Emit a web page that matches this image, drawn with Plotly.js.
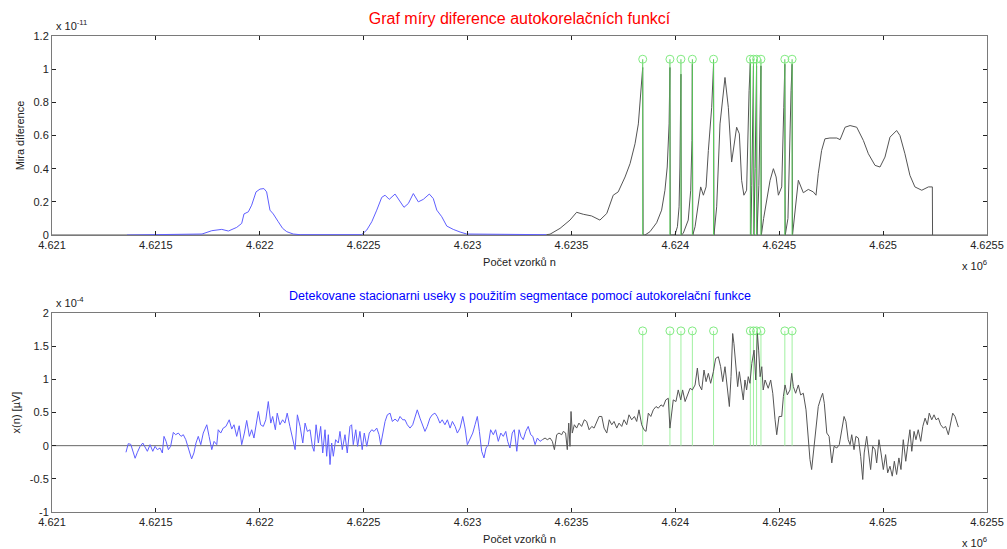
<!DOCTYPE html>
<html><head><meta charset="utf-8">
<script src="https://cdn.plot.ly/plotly-3.0.1.min.js"></script>
<style>html,body{margin:0;padding:0;background:#fff}#chart{width:1007px;height:549px}</style>
</head><body><div id="chart"></div>
<script>
const xTickVals = [4621000,4621500,4622000,4622500,4623000,4623500,4624000,4624500,4625000,4625500];
const xTickText = ['4.621','4.6215','4.622','4.6225','4.623','4.6235','4.624','4.6245','4.625','4.6255'];
const topTickVals = [0,0.2,0.4,0.6,0.8,1,1.2];
const topTickText = ['0','0.2','0.4','0.6','0.8','1','1.2'];
const botTickVals = [-1,-0.5,0,0.5,1,1.5,2];
const botTickText = ['-1','-0.5','0','0.5','1','1.5','2'];

// top panel: difference measure (units of 1e-11)
const topBlueN = [4621361,4621722,4621769,4621817,4621849,4621889,4621913,4621924,4621945,4621961,
  4621982,4622001,4622020,4622033,4622049,4622065,4622089,4622110,4622130,4622161,
  4622194,4622490,4622515,4622539,4622563,4622587,4622603,4622623,4622651,4622672,
  4622694,4622715,4622739,4622763,4622787,4622816,4622835,4622852,4622876,4622900,
  4622931,4622964,4622996,4623380];
const topBlueV = [0,0.006,0.026,0.034,0.024,0.046,0.07,0.127,0.14,0.18,
  0.26,0.277,0.28,0.26,0.15,0.127,0.08,0.04,0.02,0.006,
  0.002,0.002,0.03,0.08,0.15,0.227,0.24,0.215,0.247,0.21,
  0.167,0.19,0.25,0.2,0.215,0.247,0.22,0.15,0.11,0.054,
  0.034,0.018,0.006,0.002];

const topBlackN = [4623380,4623397,4623445,4623493,4623525,4623557,4623597,4623637,4623670,4623701,
  4623725,4623758,4623782,4623806,4623822,4623833,4623843,4623845,4623854,4623878,
  4623910,4623934,4623950,4623961,4623970,4623974,4623976,4623998,4624010,4624018,
  4624022,4624027,4624029,4624038,4624062,4624074,4624080,4624082,4624084,4624095,
  4624111,4624122,4624135,4624148,4624159,4624175,4624184,4624186,4624199,4624215,
  4624239,4624255,4624271,4624295,4624308,4624319,4624330,4624343,4624355,4624361,
  4624363,4624368,4624376,4624378,4624384,4624391,4624393,4624402,4624412,4624414,
  4624425,4624440,4624456,4624472,4624485,4624496,4624512,4624522,4624527,4624529,
  4624542,4624557,4624562,4624564,4624576,4624592,4624616,4624640,4624664,4624677,
  4624688,4624704,4624720,4624744,4624777,4624793,4624817,4624841,4624873,4624889,
  4624905,4624929,4624961,4624985,4625009,4625033,4625065,4625081,4625105,4625129,
  4625153,4625186,4625218,4625237,4625238];
const topBlackV = [0.002,0.005,0.04,0.09,0.137,0.125,0.115,0.09,0.13,0.24,
  0.26,0.35,0.43,0.55,0.67,0.83,1.01,0,0,0.02,
  0.074,0.15,0.27,0.41,0.67,1.01,0,0,0.05,0.17,
  0.41,0.97,0,0.01,0.09,0.27,0.57,1.03,0,0.05,
  0.21,0.29,0.24,0.29,0.51,0.77,1.03,0,0.17,0.67,
  0.95,0.77,0.44,0.65,0.61,0.33,0.24,0.27,0.87,1.04,
  0,0.3,1.02,0,0.4,1.02,0,0.3,1.02,0,
  0.1,0.21,0.33,0.4,0.35,0.24,0.29,0.77,1.03,0,
  0.1,0.87,1.03,0,0.15,0.33,0.255,0.275,0.26,0.24,
  0.37,0.51,0.58,0.585,0.585,0.575,0.65,0.66,0.65,0.61,
  0.57,0.49,0.42,0.41,0.47,0.59,0.63,0.6,0.49,0.36,
  0.29,0.27,0.29,0.29,0];

// detected segment boundaries
const stemN = [4623843,4623974,4624027,4624082,4624184,4624361,4624376,4624391,4624412,4624527,4624562];
const topStemV = [1.06,1.06,1.06,1.06,1.06,1.06,1.06,1.06,1.06,1.06,1.06];
const botStemV = [1.73,1.73,1.73,1.73,1.73,1.73,1.73,1.73,1.73,1.73,1.73];

// bottom panel: signal x(n) (units of 1e-4)
const sigBlueN = [4621356,4621367,4621379,4621388,4621400,4621411,4621424,4621437,4621448,4621459,
  4621472,4621485,4621496,4621507,4621520,4621531,4621539,4621549,4621560,4621571,
  4621584,4621595,4621608,4621621,4621632,4621644,4621656,4621672,4621683,4621693,
  4621704,4621716,4621728,4621745,4621756,4621769,4621780,4621793,4621800,4621812,
  4621824,4621837,4621853,4621865,4621876,4621889,4621901,4621913,4621926,4621937,
  4621950,4621961,4621972,4621982,4621993,4622004,4622017,4622029,4622041,4622053,
  4622062,4622075,4622084,4622097,4622110,4622121,4622132,4622145,4622158,4622170,
  4622181,4622194,4622207,4622218,4622229,4622242,4622253,4622261,4622271,4622282,
  4622293,4622303,4622314,4622322,4622330,4622338,4622346,4622354,4622365,4622378,
  4622386,4622397,4622410,4622421,4622434,4622442,4622450,4622462,4622471,4622482,
  4622493,4622503,4622515,4622527,4622539,4622550,4622563,4622574,4622582,4622592,
  4622603,4622614,4622627,4622638,4622651,4622664,4622675,4622688,4622699,4622710,
  4622723,4622736,4622747,4622758,4622771,4622784,4622795,4622806,4622819,4622830,
  4622843,4622854,4622867,4622878,4622891,4622903,4622916,4622927,4622940,4622951,
  4622964,4622977,4622988,4622999,4623012,4623025,4623036,4623047,4623057,4623068,
  4623079,4623089,4623100,4623111,4623124,4623135,4623148,4623160,4623172,4623184,
  4623193,4623204,4623215,4623225,4623237,4623248,4623257,4623268,4623280,4623292,
  4623304,4623314,4623325,4623336,4623349,4623360];
const sigBlueV = [-0.1,0.03,0.02,-0.06,-0.19,-0.1,-0.01,0.04,-0.035,-0.085,
  0.015,-0.085,-0.01,-0.06,-0.035,-0.11,0.14,0.065,-0.06,-0.01,
  0.2,0.165,0.19,0.14,0.165,0.09,-0.035,-0.2,-0.11,0.04,
  0.14,0.015,0.19,0.315,0.14,-0.06,0.065,0.015,0.24,0.19,
  0.265,0.29,0.39,0.25,0.315,0.14,0.3,0.015,0.19,0.38,
  0.14,0.24,0.115,0.29,0.515,0.315,0.29,0.39,0.665,0.34,
  0.44,0.24,0.49,0.315,0.39,0.34,0.49,0.29,0.115,-0.06,
  0.465,0.29,0.04,0.34,0.215,0.24,-0.01,-0.085,0.315,0.04,
  0.29,-0.11,0.24,-0.16,0.165,-0.285,0.04,-0.16,0.09,0.04,
  0.215,-0.06,0.165,-0.11,0.29,0.315,0.015,0.24,-0.01,0.215,
  -0.06,0.19,-0.01,0.19,0.24,0.215,0.265,0.165,0.015,0.215,
  0.365,0.465,0.49,0.365,0.4,0.365,0.44,0.39,0.39,0.315,
  0.265,0.315,0.44,0.54,0.415,0.315,0.215,0.29,0.415,0.465,
  0.49,0.44,0.34,0.39,0.315,0.39,0.265,0.365,0.29,0.19,
  0.265,0.44,0.265,0.015,0.115,0.19,0.315,0.44,0.215,-0.085,
  -0.185,-0.035,0.015,0.24,0.165,0.24,0.065,0.19,0.14,0.215,
  0.065,-0.035,0.19,0.24,-0.085,0.24,0.14,0.09,0.215,0.29,
  0.165,0.14,0.015,0.115,0.065,0.09];

const sigBlackN = [4623360,4623373,4623384,4623397,4623408,4623418,4623429,4623440,4623453,4623461,
  4623472,4623480,4623487,4623493,4623498,4623504,4623514,4623525,4623536,4623549,
  4623562,4623573,4623585,4623598,4623609,4623622,4623633,4623646,4623657,4623670,
  4623682,4623694,4623705,4623718,4623729,4623742,4623753,4623766,4623777,4623790,
  4623803,4623814,4623825,4623838,4623849,4623859,4623870,4623882,4623894,4623907,
  4623918,4623931,4623942,4623954,4623966,4623974,4623983,4623990,4624003,4624014,
  4624026,4624035,4624047,4624058,4624071,4624082,4624095,4624106,4624115,4624127,
  4624138,4624148,4624159,4624170,4624183,4624194,4624207,4624218,4624228,4624239,
  4624250,4624260,4624268,4624276,4624282,4624292,4624300,4624308,4624319,4624327,
  4624335,4624343,4624351,4624359,4624368,4624379,4624387,4624395,4624401,4624408,
  4624416,4624423,4624432,4624447,4624459,4624469,4624480,4624488,4624499,4624512,
  4624520,4624528,4624539,4624552,4624560,4624568,4624579,4624592,4624603,4624616,
  4624629,4624640,4624648,4624656,4624664,4624677,4624688,4624700,4624709,4624717,
  4624729,4624740,4624753,4624764,4624777,4624789,4624801,4624812,4624821,4624832,
  4624841,4624849,4624860,4624869,4624881,4624892,4624902,4624909,4624921,4624932,
  4624940,4624950,4624961,4624969,4624980,4624990,4625001,4625012,4625022,4625033,
  4625044,4625054,4625065,4625076,4625086,4625097,4625109,4625118,4625129,4625138,
  4625149,4625158,4625169,4625181,4625191,4625202,4625213,4625222,4625234,4625245,
  4625255,4625266,4625277,4625290,4625301,4625314,4625325,4625335,4625346,4625362];
const sigBlackV = [0.09,0.115,0.09,0.115,0.065,-0.06,0.165,0.19,0.165,0.215,
  0.19,-0.06,0.34,-0.01,0.515,0.19,0.315,0.265,0.34,0.29,
  0.39,0.365,0.24,0.29,0.265,0.365,0.44,0.44,0.265,0.19,
  0.39,0.315,0.365,0.265,0.34,0.29,0.39,0.315,0.465,0.39,
  0.44,0.365,0.54,0.315,0.24,0.215,0.49,0.44,0.54,0.59,
  0.565,0.615,0.59,0.69,0.715,0.265,0.49,0.69,0.665,0.84,
  0.69,0.84,0.665,0.765,0.865,0.84,0.915,1.17,0.915,0.84,
  1.14,0.965,1.09,0.94,1.115,1.315,1.34,1.19,0.965,1.19,
  0.89,0.59,1.04,1.69,1.54,1.19,0.89,1.115,0.84,0.69,
  0.99,0.84,1.04,0.94,1.24,1.44,0.99,1.69,1.44,1.04,
  1.19,0.84,0.99,0.865,0.99,0.79,0.39,0.165,0.44,0.44,
  0.74,0.915,0.765,0.84,1.09,0.89,0.79,0.915,0.765,0.79,
  0.54,0.14,-0.21,-0.36,-0.11,0.29,0.59,0.715,0.79,0.64,
  0.19,0.14,-0.26,-0.01,-0.035,0.015,0.265,0.44,0.365,0.09,
  0.015,0.165,-0.06,0.14,0.115,-0.16,-0.51,-0.11,0.14,-0.16,
  -0.36,-0.01,-0.06,-0.26,0.09,-0.11,-0.36,-0.135,-0.41,-0.31,
  -0.46,-0.235,-0.435,-0.185,-0.36,0.09,-0.235,-0.01,0.24,-0.085,
  0.215,0.09,0.24,0.065,0.29,0.415,0.315,0.49,0.39,0.465,
  0.39,0.415,0.315,0.265,0.29,0.165,0.365,0.49,0.44,0.28];

function stemLines(ns, vs) {
  const x = [], y = [];
  for (let i = 0; i < ns.length; i++) { x.push(ns[i], ns[i], null); y.push(0, vs[i], null); }
  return {x, y};
}
const tS = stemLines(stemN, topStemV);
const bS = stemLines(stemN, botStemV);

const FONT = 'Liberation Sans, Arial, Helvetica, sans-serif';
const BLUE = 'rgb(95,95,255)';
const BLACK = 'rgb(85,85,85)';

const traces = [
  {x: topBlueN, y: topBlueV, xaxis: 'x', yaxis: 'y', mode: 'lines', line: {color: BLUE, width: 1}},
  {x: topBlackN, y: topBlackV, xaxis: 'x', yaxis: 'y', mode: 'lines', line: {color: BLACK, width: 1}},
  {x: tS.x, y: tS.y, xaxis: 'x', yaxis: 'y', mode: 'lines', line: {color: 'rgb(90,205,90)', width: 1}},
  {x: stemN, y: topStemV, xaxis: 'x', yaxis: 'y', mode: 'markers', marker: {symbol: 'circle-open', size: 8, color: 'rgb(130,235,130)', line: {width: 1}}},
  {x: bS.x, y: bS.y, xaxis: 'x2', yaxis: 'y2', mode: 'lines', line: {color: 'rgb(160,240,160)', width: 1}},
  {x: stemN, y: botStemV, xaxis: 'x2', yaxis: 'y2', mode: 'markers', marker: {symbol: 'circle-open', size: 8, color: 'rgb(130,235,130)', line: {width: 1}}},
  {x: sigBlueN, y: sigBlueV, xaxis: 'x2', yaxis: 'y2', mode: 'lines', line: {color: BLUE, width: 1}},
  {x: sigBlackN, y: sigBlackV, xaxis: 'x2', yaxis: 'y2', mode: 'lines', line: {color: BLACK, width: 1}}
];

function xax(anchor) {
  return {
    anchor: anchor, domain: [0, 1], range: [4621000, 4625500],
    tickvals: xTickVals, ticktext: xTickText,
    ticks: 'inside', ticklen: 4, tickcolor: '#222', tickwidth: 1,
    showline: true, linecolor: '#7a7a7a', linewidth: 1, mirror: 'ticks',
    showgrid: false, zeroline: false,
    tickfont: {family: FONT, size: 11, color: '#222'},
    title: {text: 'Počet vzorků n', font: {family: FONT, size: 11, color: '#222'}, standoff: 8}
  };
}
function yax(anchor, domain, range, tv, tt, title) {
  return {
    anchor: anchor, domain: domain, range: range,
    tickvals: tv, ticktext: tt,
    ticks: 'inside', ticklen: 4, tickcolor: '#222', tickwidth: 1,
    showline: true, linecolor: '#7a7a7a', linewidth: 1, mirror: 'ticks',
    showgrid: false, zeroline: false,
    tickfont: {family: FONT, size: 11, color: '#222'},
    title: {text: title, font: {family: FONT, size: 11, color: '#222'}, standoff: 6}
  };
}

const layout = {
  width: 1007, height: 549,
  margin: {l: 52, r: 20, t: 36, b: 37},
  paper_bgcolor: '#fff', plot_bgcolor: '#fff',
  showlegend: false,
  font: {family: FONT, size: 11, color: '#222'},
  title: {text: 'Graf míry diference autokorelačních funkcí', font: {family: FONT, size: 16, color: '#ff0000'},
          x: 0.5, xref: 'paper', y: 1 - 18/549, yref: 'container', yanchor: 'middle'},
  xaxis: xax('y'),
  yaxis: yax('x', [0.5819, 1], [0, 1.2], topTickVals, topTickText, 'Mira diference'),
  xaxis2: xax('y2'),
  yaxis2: yax('x2', [0, 0.4181], [-1, 2], botTickVals, botTickText, 'x(n) [µV]'),
  shapes: [
    {type: 'line', xref: 'x domain', yref: 'y', x0: 0, x1: 1, y0: 0, y1: 0, layer: 'below', line: {color: '#a8a8a8', width: 2}},
    {type: 'line', xref: 'x2 domain', yref: 'y2', x0: 0, x1: 1, y0: 0, y1: 0, layer: 'below', line: {color: '#666', width: 1}}
  ],
  annotations: [
    {text: 'Detekovane stacionarni useky s použitím segmentace pomocí autokorelační funkce', xref: 'paper', yref: 'paper',
     x: 0.5, y: (512-296)/476, xanchor: 'center', yanchor: 'middle', showarrow: false, font: {family: FONT, size: 12.5, color: '#0000ff'}},
    {text: 'x 10<sup>-11</sup>', xref: 'paper', yref: 'paper', x: 0, xshift: 2, y: 1, yshift: 2, xanchor: 'left', yanchor: 'bottom', showarrow: false, font: {family: FONT, size: 11, color: '#222'}},
    {text: 'x 10<sup>-4</sup>', xref: 'paper', yref: 'paper', x: 0, xshift: 2, y: 0.4181, yshift: 2, xanchor: 'left', yanchor: 'bottom', showarrow: false, font: {family: FONT, size: 11, color: '#222'}},
    {text: 'x 10<sup>6</sup>', xref: 'paper', yref: 'paper', x: 1, xshift: 2, y: (512-265)/476, xanchor: 'right', yanchor: 'middle', showarrow: false, font: {family: FONT, size: 11, color: '#222'}},
    {text: 'x 10<sup>6</sup>', xref: 'paper', yref: 'paper', x: 1, xshift: 2, y: (512-542)/476, xanchor: 'right', yanchor: 'middle', showarrow: false, font: {family: FONT, size: 11, color: '#222'}}
  ]
};

Plotly.newPlot('chart', traces, layout, {displayModeBar: false, staticPlot: true});
</script>
</body></html>
